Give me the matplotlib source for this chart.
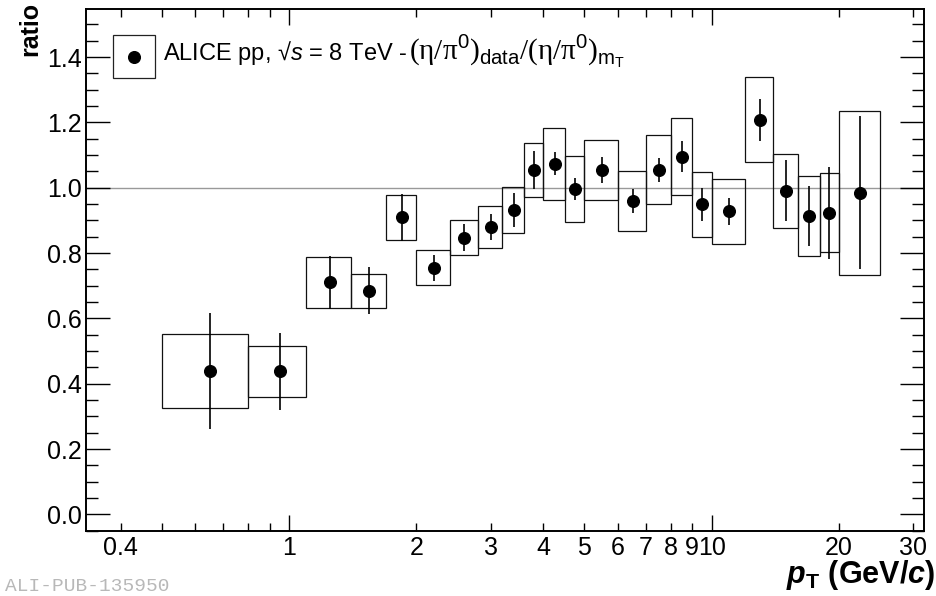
import matplotlib
matplotlib.use("Agg")
import matplotlib.pyplot as plt
from matplotlib.patches import Rectangle
from matplotlib.lines import Line2D

plt.rcParams["font.family"] = ["Liberation Sans", "DejaVu Sans"]
plt.rcParams["mathtext.fontset"] = "custom"
plt.rcParams["mathtext.rm"] = "Liberation Serif"
plt.rcParams["mathtext.sf"] = "Liberation Sans"
plt.rcParams["mathtext.it"] = "Liberation Sans:italic"
plt.rcParams["mathtext.bf"] = "Liberation Sans:bold"
plt.rcParams["mathtext.bfit"] = "Liberation Sans:bold:italic"

# pT bins (GeV/c)
bin_lo = [0.5, 0.8, 1.1, 1.4, 1.7, 2.0, 2.4, 2.8, 3.2, 3.6, 4.0, 4.5,
          5.0, 6.0, 7.0, 8.0, 9.0, 10.0, 12.0, 14.0, 16.0, 18.0, 20.0]
bin_hi = [0.8, 1.1, 1.4, 1.7, 2.0, 2.4, 2.8, 3.2, 3.6, 4.0, 4.5, 5.0,
          6.0, 7.0, 8.0, 9.0, 10.0, 12.0, 14.0, 16.0, 18.0, 20.0, 25.0]
pt = [0.65, 0.95, 1.25, 1.55, 1.85, 2.2, 2.6, 3.0, 3.4, 3.8, 4.25, 4.75,
      5.5, 6.5, 7.5, 8.5, 9.5, 11.0, 13.0, 15.0, 17.0, 19.0, 22.5]

# (eta/pi0)_data / (eta/pi0)_mT
ratio = [0.438, 0.438, 0.710, 0.685, 0.909, 0.755, 0.847, 0.880, 0.932, 1.054,
         1.073, 0.995, 1.053, 0.959, 1.055, 1.095, 0.949, 0.928, 1.208, 0.991,
         0.913, 0.923, 0.985]
stat_err = [0.177, 0.117, 0.082, 0.072, 0.072, 0.040, 0.042, 0.040, 0.052, 0.057,
            0.035, 0.034, 0.040, 0.037, 0.037, 0.047, 0.051, 0.041, 0.065, 0.094,
            0.091, 0.140, 0.234]
sys_err = [0.113, 0.078, 0.078, 0.052, 0.068, 0.054, 0.054, 0.065, 0.071, 0.083,
           0.110, 0.101, 0.092, 0.092, 0.106, 0.117, 0.100, 0.099, 0.130, 0.113,
           0.122, 0.121, 0.251]

x_major = [1, 10]
x_minor = [0.4, 0.5, 0.6, 0.7, 0.8, 0.9, 2, 3, 4, 5, 6, 7, 8, 9, 20, 30]
x_minor_labels = ["0.4", "", "", "", "", "", "2", "3", "4", "5", "6", "7",
                  "8", "9", "20", "30"]
y_ticks = [0.0, 0.2, 0.4, 0.6, 0.8, 1.0, 1.2, 1.4]

W, H = 936, 596
fig = plt.figure(figsize=(W / 100, H / 100), dpi=100)
ax = fig.add_axes([86 / W, 1 - 530.7 / H, (924 - 86) / W, (530.7 - 8.7) / H])

ax.set_xscale("log")
ax.set_xlim(0.331, 31.8)
ax.set_ylim(-0.05, 1.548)

# reference line at unity
ax.axhline(1.0, color="#999999", lw=1.0, zorder=1)

# systematic uncertainty boxes
for lo, hi, v, s in zip(bin_lo, bin_hi, ratio, sys_err):
    ax.add_patch(Rectangle((lo, v - s), hi - lo, 2 * s, fill=False,
                           edgecolor="#111111", lw=0.9, zorder=2))

# statistical uncertainties and points
ax.errorbar(pt, ratio, yerr=stat_err, fmt="o", color="black", ms=8.4,
            elinewidth=1.2, capsize=0, zorder=3)

# ticks
ax.set_xticks(x_major, ["1", "10"])
ax.set_xticks(x_minor, x_minor_labels, minor=True)
ax.set_yticks(y_ticks, [f"{v:.1f}" for v in y_ticks])
ax.set_yticks([i * 0.05 for i in range(-1, 31)], minor=True)
ax.tick_params(which="both", direction="in", top=True, right=True,
               labelsize=18, width=1.0, colors="black")
ax.tick_params(axis="x", which="major", length=11.5, pad=4)
ax.tick_params(axis="x", which="minor", length=5.8, pad=4)
ax.tick_params(axis="y", which="major", length=17, pad=3)
ax.tick_params(axis="y", which="minor", length=8.5, pad=3)
for sp in ax.spines.values():
    sp.set_linewidth(1.4)

# axis titles
fig.text(935 / W, 1 - 583 / H,
         r"$\mathbfit{p}_{\mathbf{T}}$ (GeV/$\mathbfit{c}$)",
         ha="right", va="baseline", fontsize=22, fontweight="bold")
fig.text(30 / W, 1 - 2 / H, "ratio", rotation=90, ha="center", va="top",
         fontsize=18, fontweight="bold")

# legend entry: box with marker
fig.add_artist(Rectangle((113.3 / W, 1 - 78.3 / H), (155 - 113.3) / W,
                         (78.3 - 35.3) / H, transform=fig.transFigure,
                         fill=False, edgecolor="#222222", lw=0.9))
fig.add_artist(Line2D([133.5 / W], [1 - 56.7 / H], marker="o", color="black",
                      ms=8.4, transform=fig.transFigure))
fig.text(163 / W, 1 - 60 / H, r"ALICE pp, √$s$ = 8 TeV -",
         ha="left", va="baseline", fontsize=17)
fig.text(409 / W, 1 - 60 / H,
         r"$\mathrm{(\eta/\pi}^{\mathsf{0}}\mathrm{)}_{\mathsf{data}}"
         r"\mathrm{/(\eta/\pi}^{\mathsf{0}}\mathrm{)}_{\mathsf{m}_{\mathsf{T}}}$",
         ha="left", va="baseline", fontsize=21)

# figure identifier
fig.text(5 / W, 1 / H, "ALI-PUB-135950", ha="left", va="bottom",
         fontsize=14, family="Liberation Mono", color="#b8b8b8")

fig.savefig("out.png", dpi=100)
